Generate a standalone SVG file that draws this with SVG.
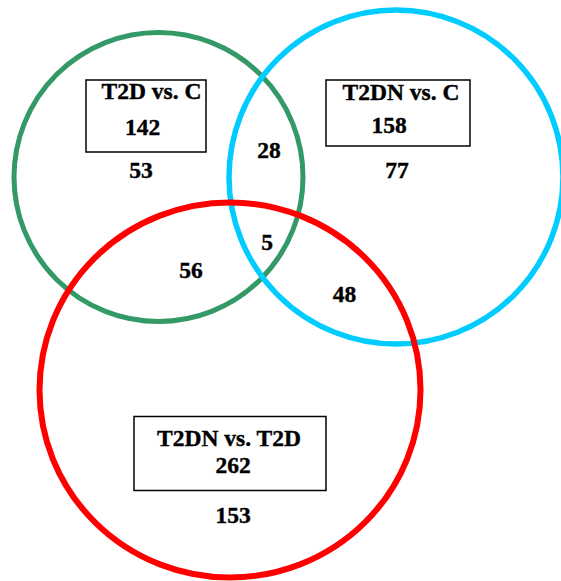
<svg xmlns="http://www.w3.org/2000/svg" width="561" height="581" viewBox="0 0 561 581">
<style>
.c{fill:none}
.box{fill:none;stroke:#000;stroke-width:1.5}
.t{font-family:'Liberation Serif','Times New Roman',serif;font-weight:bold;font-size:23.5px;fill:#000;stroke:#000;stroke-width:0.4;text-anchor:middle}
</style>
<rect width="561" height="581" fill="#fff"/>
<g id="sets">
<circle id="green" class="c" cx="158.5" cy="177" r="144.5" stroke="#339966" stroke-width="5"/>
<circle id="cyan" class="c" cx="396" cy="177" r="167" stroke="#00CCFF" stroke-width="5.5"/>
<ellipse id="red" class="c" cx="230" cy="390" rx="190.5" ry="187.5" stroke="#FF0000" stroke-width="6"/>
</g>
<g id="t2d_c">
<rect class="box" x="86" y="80" width="120" height="72"/>
<text class="t" x="151.5" y="99">T2D vs. C</text>
<text class="t" x="142.5" y="135">142</text>
</g>
<g id="t2dn_c">
<rect class="box" x="326" y="80" width="144" height="66"/>
<text class="t" x="401" y="100">T2DN vs. C</text>
<text class="t" x="389" y="133">158</text>
</g>
<g id="t2dn_t2d">
<rect class="box" x="134" y="416.5" width="192" height="74"/>
<text class="t" x="229" y="446">T2DN vs. T2D</text>
<text class="t" x="233" y="473">262</text>
</g>
<g id="counts">
<text class="t" x="141" y="178">53</text>
<text class="t" x="397" y="178">77</text>
<text class="t" x="269" y="158">28</text>
<text class="t" x="267" y="249.5">5</text>
<text class="t" x="191" y="278">56</text>
<text class="t" x="344.5" y="302">48</text>
<text class="t" x="233" y="523">153</text>
</g>
</svg>
